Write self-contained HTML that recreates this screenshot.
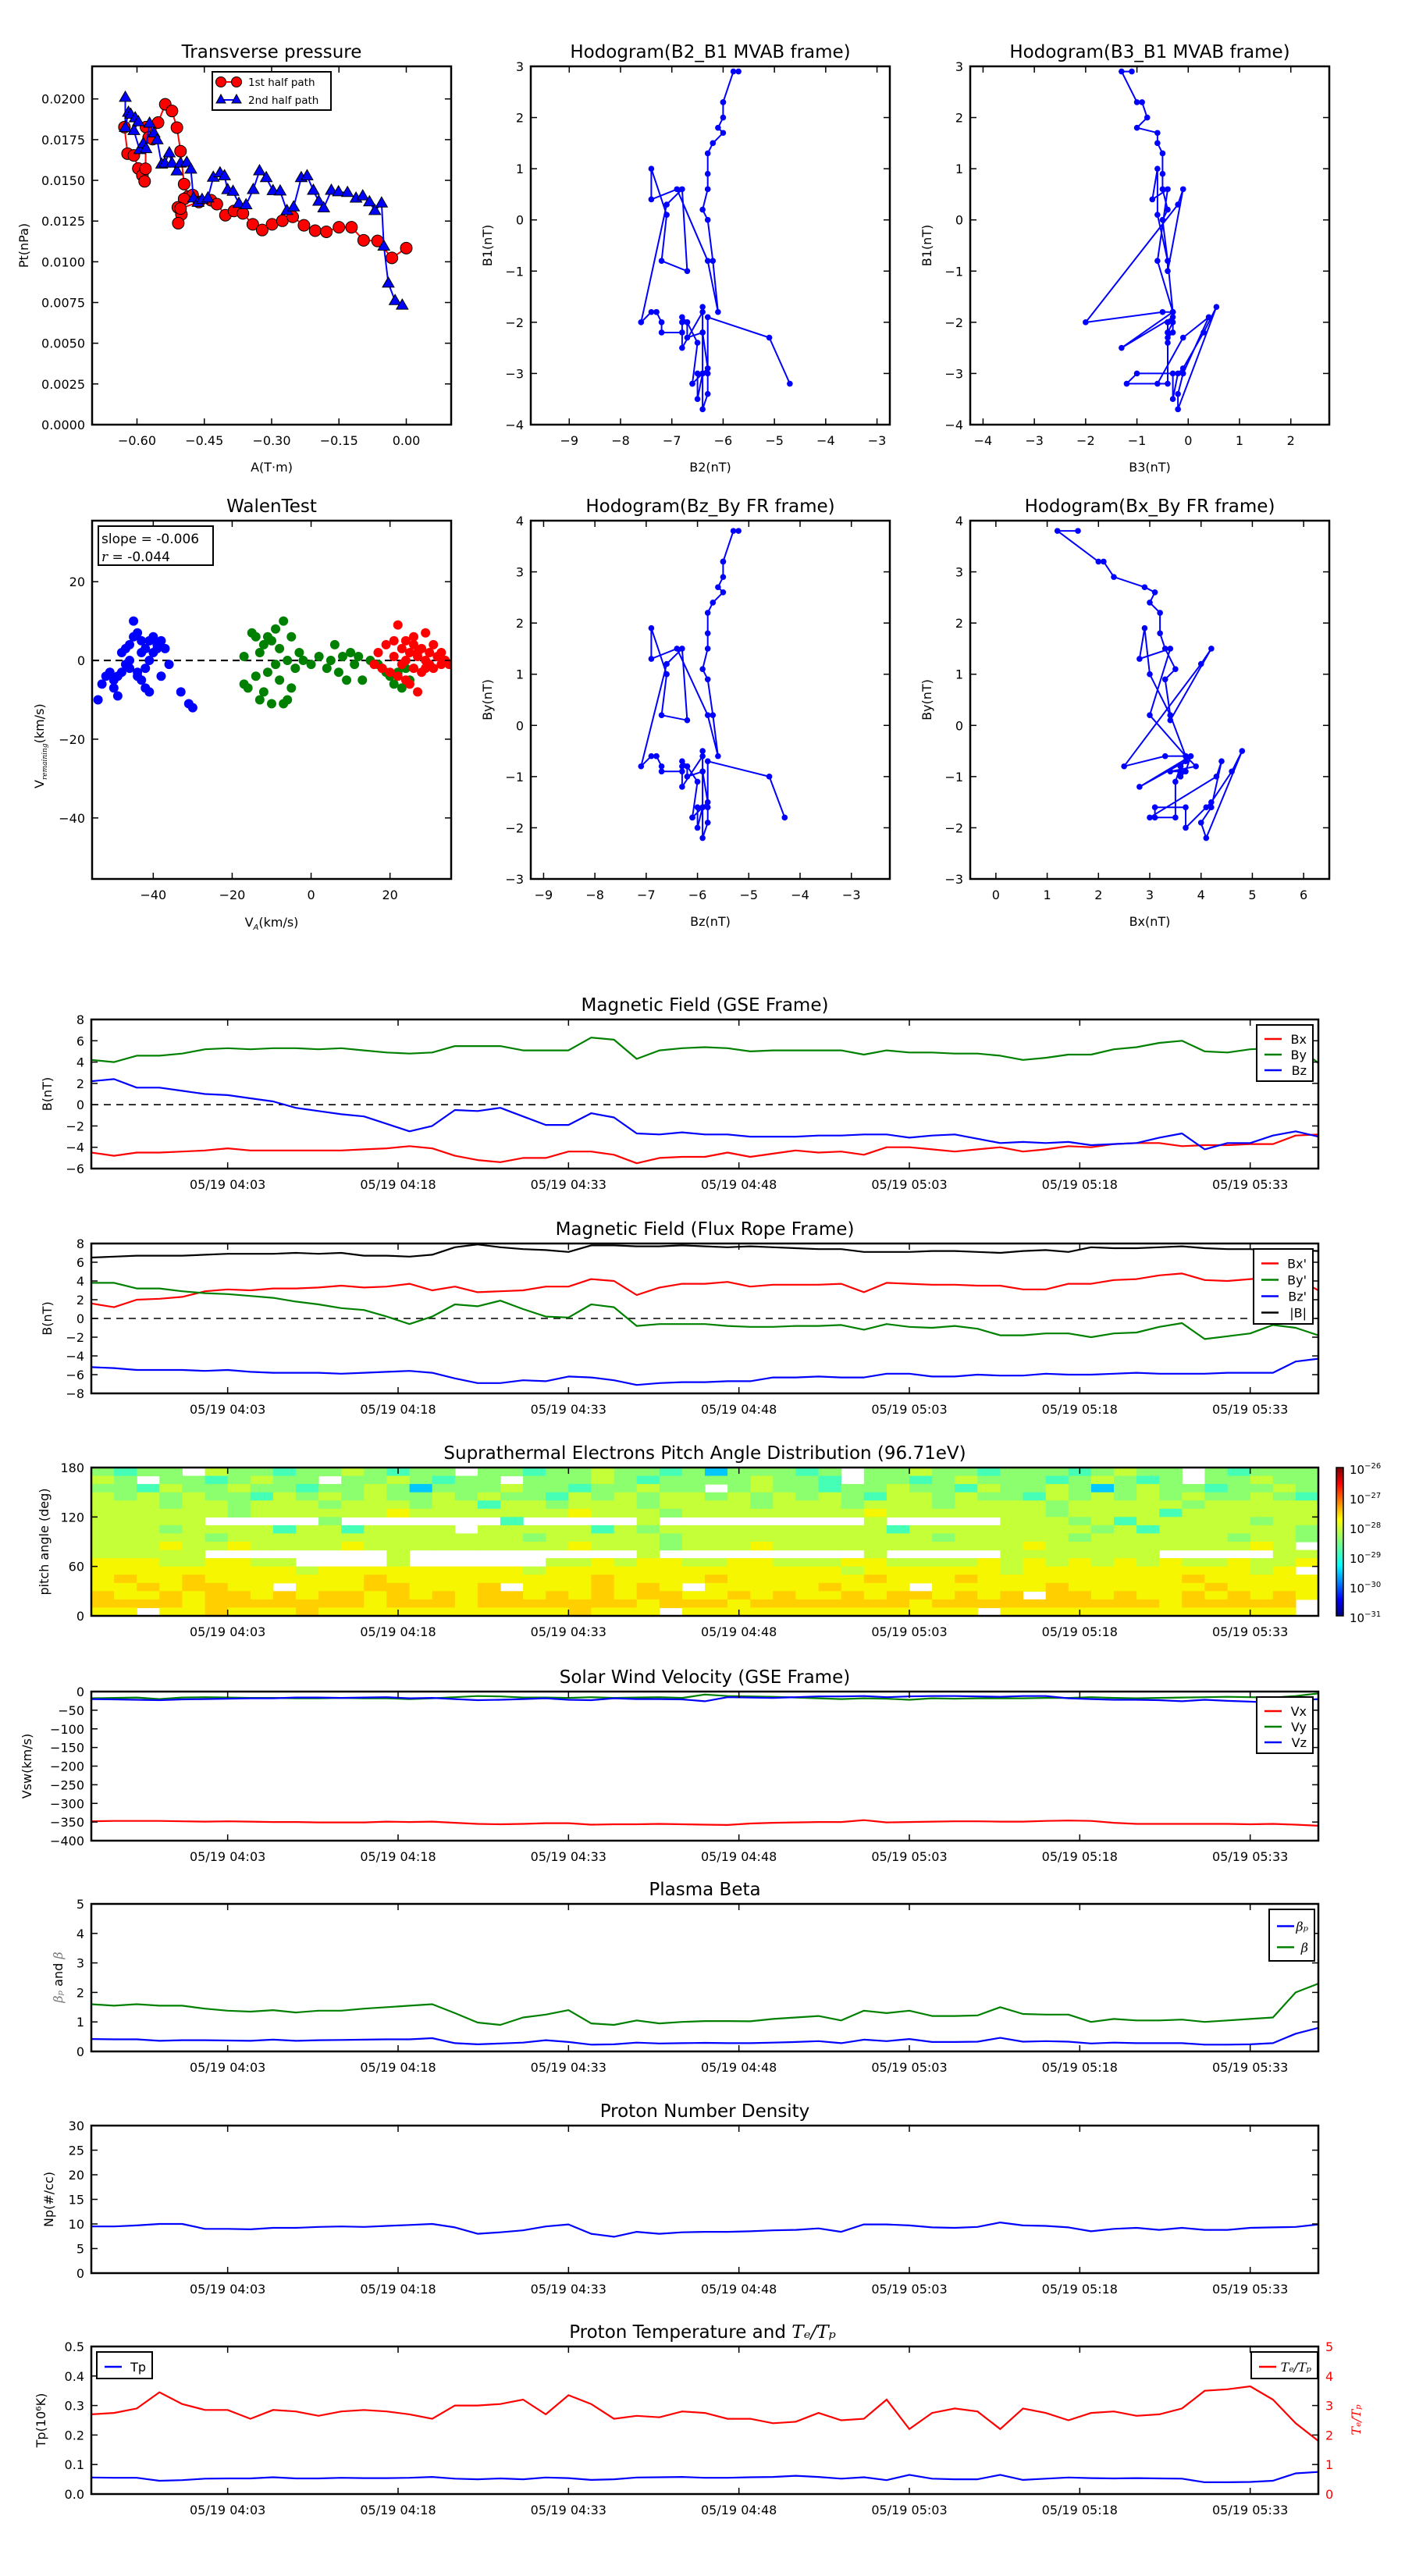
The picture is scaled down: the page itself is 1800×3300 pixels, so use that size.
<!DOCTYPE html>
<html><head><meta charset="utf-8"><title>Flux rope analysis</title>
<style>
html,body{margin:0;padding:0;background:#fff;}
svg{display:block;font-family:"DejaVu Sans","Liberation Sans",sans-serif;}
</style></head>
<body>
<svg id="chart" xmlns="http://www.w3.org/2000/svg" width="1800" height="3300" viewBox="0 0 1800 3300">
<rect x="0" y="0" width="1800" height="3300" fill="#fff"/>
</svg>
<script>
// ---------- data: transverse pressure ----------
const tp1A=[-0.628,-0.621,-0.607,-0.597,-0.588,-0.583,-0.581,-0.580,-0.574,-0.565,-0.553,-0.537,-0.522,-0.511,-0.503,-0.495,-0.486,-0.476,-0.495,-0.501,-0.508,-0.509,-0.503,-0.462,-0.435,-0.422,-0.403,-0.384,-0.364,-0.342,-0.321,-0.299,-0.276,-0.253,-0.228,-0.203,-0.178,-0.150,-0.122,-0.095,-0.064,-0.032,0.000];
const tp1P=[0.01827,0.01664,0.01653,0.01573,0.01531,0.01494,0.01571,0.01827,0.01763,0.01753,0.01855,0.01967,0.01926,0.01824,0.01679,0.01477,0.01401,0.01410,0.01386,0.01291,0.01237,0.01334,0.01327,0.01367,0.01378,0.01354,0.01286,0.01312,0.01297,0.01230,0.01195,0.01230,0.01252,0.01276,0.01224,0.01191,0.01184,0.01212,0.01212,0.01132,0.01128,0.01024,0.01084];
const tp2A=[-0.626,-0.626,-0.619,-0.614,-0.604,-0.597,-0.607,-0.594,-0.586,-0.580,-0.572,-0.562,-0.555,-0.545,-0.538,-0.528,-0.522,-0.511,-0.503,-0.489,-0.480,-0.474,-0.464,-0.455,-0.442,-0.430,-0.415,-0.405,-0.398,-0.386,-0.373,-0.357,-0.341,-0.327,-0.312,-0.297,-0.281,-0.266,-0.251,-0.234,-0.221,-0.207,-0.195,-0.184,-0.167,-0.151,-0.131,-0.112,-0.097,-0.082,-0.070,-0.055,-0.050,-0.040,-0.025,-0.009];
const tp2P=[0.02009,0.01824,0.01917,0.01905,0.01883,0.01859,0.01805,0.01688,0.01725,0.01694,0.01850,0.01790,0.01748,0.01599,0.01605,0.01668,0.01605,0.01557,0.01605,0.01610,0.01568,0.01391,0.01364,0.01382,0.01391,0.01518,0.01545,0.01527,0.01442,0.01432,0.01358,0.01349,0.01443,0.01558,0.01516,0.01436,0.01434,0.01314,0.01336,0.01516,0.01527,0.01438,0.01371,0.01330,0.01438,0.01429,0.01425,0.01390,0.01404,0.01367,0.01314,0.01360,0.01095,0.00868,0.00761,0.00733];
// ---------- data: time series (2-min samples from 03:51) ----------
const Bx=[-4.5,-4.8,-4.5,-4.5,-4.4,-4.3,-4.1,-4.3,-4.3,-4.3,-4.3,-4.3,-4.2,-4.1,-3.9,-4.1,-4.8,-5.2,-5.4,-5.0,-5.0,-4.4,-4.4,-4.7,-5.5,-5.0,-4.9,-4.9,-4.5,-4.9,-4.6,-4.3,-4.5,-4.4,-4.7,-4.0,-4.0,-4.2,-4.4,-4.2,-4.0,-4.4,-4.2,-3.9,-4.0,-3.7,-3.6,-3.6,-3.9,-3.8,-3.8,-3.7,-3.7,-2.9,-2.8];
const By=[4.2,4.0,4.6,4.6,4.8,5.2,5.3,5.2,5.3,5.3,5.2,5.3,5.1,4.9,4.8,4.9,5.5,5.5,5.5,5.1,5.1,5.1,6.3,6.1,4.3,5.1,5.3,5.4,5.3,5.0,5.1,5.1,5.1,5.1,4.7,5.1,4.9,4.9,4.8,4.8,4.6,4.2,4.4,4.7,4.7,5.2,5.4,5.8,6.0,5.0,4.9,5.2,5.3,5.6,3.9];
const Bz=[2.2,2.4,1.6,1.6,1.3,1.0,0.9,0.6,0.3,-0.3,-0.6,-0.9,-1.1,-1.8,-2.5,-2.0,-0.5,-0.6,-0.3,-1.1,-1.9,-1.9,-0.8,-1.2,-2.7,-2.8,-2.6,-2.8,-2.8,-3.0,-3.0,-3.0,-2.9,-2.9,-2.8,-2.8,-3.1,-2.9,-2.8,-3.2,-3.6,-3.5,-3.6,-3.5,-3.8,-3.7,-3.6,-3.1,-2.7,-4.2,-3.6,-3.6,-2.9,-2.5,-3.0];
const Bxp=[1.6,1.2,2.0,2.1,2.3,2.9,3.1,3.0,3.2,3.2,3.3,3.5,3.3,3.4,3.7,3.0,3.4,2.8,2.9,3.0,3.4,3.4,4.2,4.0,2.5,3.3,3.7,3.7,3.9,3.4,3.6,3.6,3.6,3.7,2.8,3.8,3.7,3.6,3.6,3.5,3.5,3.1,3.1,3.7,3.7,4.1,4.2,4.6,4.8,4.1,4.0,4.2,4.4,4.3,3.0];
const Byp=[3.8,3.8,3.2,3.2,2.9,2.7,2.6,2.4,2.2,1.8,1.5,1.1,0.9,0.2,-0.6,0.2,1.5,1.3,1.9,1.0,0.2,0.1,1.5,1.2,-0.8,-0.6,-0.6,-0.6,-0.8,-0.9,-0.9,-0.8,-0.8,-0.7,-1.2,-0.6,-0.9,-1.0,-0.8,-1.1,-1.8,-1.8,-1.6,-1.6,-2.0,-1.6,-1.5,-0.9,-0.5,-2.2,-1.9,-1.6,-0.7,-1.0,-1.8];
const Bzp=[-5.2,-5.3,-5.5,-5.5,-5.5,-5.6,-5.5,-5.7,-5.8,-5.8,-5.8,-5.9,-5.8,-5.7,-5.6,-5.8,-6.4,-6.9,-6.9,-6.6,-6.7,-6.2,-6.3,-6.6,-7.1,-6.9,-6.8,-6.8,-6.7,-6.7,-6.3,-6.3,-6.2,-6.3,-6.3,-5.9,-5.9,-6.2,-6.2,-6.0,-6.1,-6.1,-5.9,-6.0,-6.0,-5.9,-5.8,-5.9,-5.9,-5.9,-5.8,-5.8,-5.8,-4.6,-4.3];
const Bmag=[6.5,6.6,6.7,6.7,6.7,6.8,6.9,6.9,6.9,7.0,6.9,7.0,6.7,6.7,6.6,6.8,7.6,7.9,7.6,7.4,7.3,7.1,7.8,7.8,7.7,7.7,7.8,7.7,7.6,7.7,7.6,7.5,7.4,7.4,7.1,7.1,7.1,7.2,7.2,7.1,7.0,7.2,7.3,7.1,7.6,7.5,7.5,7.6,7.7,7.5,7.4,7.4,7.2,7.3,7.2];
// MVAB frame
const B1=[2.9,2.9,2.3,2.3,2.0,1.8,1.7,1.5,1.3,0.9,0.6,0.2,0.0,-0.8,-1.8,-0.8,0.6,0.4,1.0,0.1,-0.8,-1.0,0.6,0.3,-2.0,-1.8,-1.8,-1.8,-2.0,-2.2,-2.2,-2.0,-2.0,-1.9,-2.5,-1.8,-2.2,-2.3,-2.0,-2.4,-3.2,-3.2,-3.0,-3.0,-3.5,-3.0,-2.9,-2.2,-1.7,-3.7,-3.4,-3.0,-1.9,-2.3,-3.2];
const B2=[-5.7,-5.8,-6.0,-6.0,-6.0,-6.1,-6.0,-6.2,-6.3,-6.3,-6.3,-6.4,-6.3,-6.2,-6.1,-6.3,-6.9,-7.4,-7.4,-7.1,-7.2,-6.7,-6.8,-7.1,-7.6,-7.4,-7.3,-7.3,-7.2,-7.2,-6.8,-6.8,-6.7,-6.8,-6.8,-6.4,-6.4,-6.7,-6.7,-6.5,-6.6,-6.6,-6.4,-6.5,-6.5,-6.4,-6.3,-6.4,-6.4,-6.4,-6.3,-6.3,-6.3,-5.1,-4.7];
const B3=[-1.1,-1.3,-1.0,-0.9,-0.8,-1.0,-0.6,-0.6,-0.5,-0.5,-0.5,-0.4,-0.5,-0.4,-0.3,-0.6,-0.4,-0.7,-0.6,-0.6,-0.4,-0.4,-0.1,-0.2,-2.0,-0.5,-0.3,-0.3,-0.3,-0.4,-0.4,-0.4,-0.4,-0.3,-1.3,-0.3,-0.3,-0.4,-0.4,-0.4,-0.4,-1.2,-1.0,-0.3,-0.3,-0.2,-0.1,0.3,0.55,-0.2,-0.2,-0.1,0.4,-0.1,-0.6];
// Walen test
const walenBlueX=[-54,-53,-52,-51,-50,-50,-49,-49,-48,-48,-47,-47,-46,-46,-45,-45,-44,-44,-43,-43,-43,-42,-42,-42,-41,-41,-40,-40,-39,-39,-38,-38,-37,-36,-33,-31,-30,-41,-44,-46];
const walenBlueY=[-10,-6,-4,-3,-5,-7,-9,-4,-3,2,3,-1,4,0,6,10,7,-3,5,2,-5,3,-2,-7,5,0,2,6,4,3,5,-4,3,-1,-8,-11,-12,-8,-4,-2];
const walenGreenX=[-17,-17,-16,-15,-14,-14,-13,-13,-12,-12,-11,-11,-10,-10,-9,-9,-8,-8,-7,-7,-6,-6,-5,-5,-4,-3,-2,0,2,4,5,6,7,8,9,10,11,12,13,15,17,18,19,20,21,22,23,24,25];
const walenGreenY=[1,-6,-7,7,6,-4,-10,2,-8,4,-3,6,5,-11,-1,8,3,-5,10,-11,0,-10,6,-7,-2,2,0,-1,1,-2,0,4,-3,1,-5,2,-1,1,-5,0,-1,-2,-3,-4,-6,-3,-7,-2,-5];
const walenRedX=[16,17,18,19,20,21,21,22,22,23,23,24,24,25,25,26,26,27,27,28,28,29,29,30,30,31,32,33,34,35,24,26,27,29,31,33];
const walenRedY=[-1,2,-2,4,-3,5,1,9,-4,3,-1,5,0,2,-6,4,-2,1,-8,3,-3,7,0,2,-1,4,1,2,0,-1,-5,6,2,-2,-2,-1];
// Pitch angle distribution: rows 170-180 deg down to 0-10 deg, 2-min columns
const padRows=[
"gcggwlggcgglgcggwggcgglggcgbgggcgwgglggcgggcglggwgcggg",
"lgwggcglggwgglgcggwggglgcgggglggcwggcglgggcglgcgwgglgg",
"ggclgglggcgglgbggglggcgglggwglggcgglggclgglgbglggcgglg",
"lglglggclglglgglglggclglgllglglglgcllglggclglglglgglgc",
"lllgllglllglllgllcllglllgllllglllglllgllllglllllglllllgl",
"llllllgllllllylllllllylllgllllllllylllllllgllllcllllllglll",
"lllllwwwwwgwwwwwwwcwwwwwlwwwwwwwwwlwwwwwlllglclllllgll",
"lllgllllcllcllllwlllllclgllllllllllcllllllllglcllllllg",
"lllllglllllllllllllglllllglllllllllllglllllgllllllgllg",
"lllyllyllllylllllllllylllglllylllllllllllylllllllllyl",
"lllllwwwwwwwwlwwwwwwwwwwlwwwwwwwwwlwwwwwlllllllwwwwwll",
"yyyllyyllwwwwlwwwwwwllylyyllyylllyyllllylylylylyllylly",
"yyyyyyyyylyyyyyyyyylyyyyyyyyyyyyylyyyyyylyyyyyyyyyyly",
"yoyyoyyyyyyyoyyyyyyyyyoyyyyoyyyyyyoyyyoyyyyyyyyyoyyyyy",
"yyoyooyywyyyooyyyowyyyoyoywyyyyyoyyywyyyyyoyyyyyyoyyyy",
"oyyoyooyoyooyoyoyooyoyoyooyyoyoyyoyooyoyowooyoyyoyoyoy",
"ooooyoooooooyoooyoooooooyoooyoooooooyooooooooooyooooo",
"yywyyoyyyoyyyyyyyyyyyoyyywyyyyyyyyyyyyywyyyyyyyyyyyyy"];
// Solar wind velocity
const Vx=[-348,-347,-347,-347,-348,-349,-348,-349,-350,-350,-351,-351,-351,-349,-350,-349,-352,-355,-356,-355,-353,-353,-357,-356,-356,-355,-356,-357,-358,-354,-352,-351,-350,-350,-345,-351,-350,-349,-348,-348,-349,-349,-347,-346,-347,-352,-355,-355,-355,-355,-355,-356,-355,-357,-360];
const Vy=[-18,-17,-16,-20,-16,-15,-16,-17,-17,-18,-18,-17,-18,-18,-20,-18,-15,-12,-13,-16,-16,-17,-15,-17,-16,-15,-17,-8,-12,-13,-14,-16,-18,-20,-18,-19,-22,-18,-19,-18,-18,-18,-17,-17,-15,-17,-18,-17,-16,-15,-14,-15,-16,-12,-5];
const Vz=[-20,-21,-22,-23,-21,-20,-19,-18,-18,-16,-16,-17,-16,-15,-18,-17,-20,-23,-22,-20,-18,-22,-23,-18,-20,-20,-21,-26,-15,-16,-17,-15,-13,-13,-12,-15,-13,-12,-12,-13,-14,-12,-12,-18,-20,-22,-22,-23,-26,-22,-25,-27,-30,-24,-20];
// Plasma beta
const betaP=[0.42,0.41,0.41,0.36,0.38,0.38,0.37,0.36,0.4,0.36,0.38,0.39,0.4,0.41,0.41,0.45,0.28,0.24,0.27,0.3,0.38,0.32,0.23,0.24,0.3,0.27,0.28,0.29,0.28,0.28,0.3,0.32,0.35,0.28,0.4,0.35,0.42,0.32,0.32,0.33,0.46,0.33,0.35,0.33,0.27,0.3,0.28,0.28,0.28,0.23,0.23,0.24,0.28,0.6,0.8];
const betaT=[1.6,1.55,1.6,1.55,1.55,1.45,1.38,1.35,1.4,1.32,1.38,1.38,1.45,1.5,1.55,1.6,1.3,0.98,0.9,1.15,1.25,1.4,0.95,0.9,1.05,0.95,1.0,1.03,1.03,1.02,1.1,1.15,1.2,1.05,1.38,1.3,1.38,1.2,1.2,1.22,1.5,1.27,1.25,1.25,1.0,1.1,1.05,1.05,1.08,1.0,1.05,1.1,1.15,2.0,2.3];
// Proton density
const Np=[9.5,9.5,9.7,10.0,10.0,9.0,9.0,8.9,9.2,9.2,9.4,9.5,9.4,9.6,9.8,10.0,9.3,8.0,8.3,8.7,9.5,9.9,8.0,7.4,8.4,8.0,8.3,8.4,8.4,8.5,8.7,8.8,9.1,8.4,9.9,9.9,9.7,9.3,9.2,9.4,10.3,9.7,9.6,9.3,8.5,9.0,9.2,8.8,9.2,8.8,8.8,9.2,9.3,9.4,9.9];
// Temperature
const Tp=[0.056,0.055,0.055,0.045,0.047,0.052,0.053,0.053,0.057,0.053,0.053,0.055,0.054,0.054,0.055,0.058,0.052,0.05,0.053,0.05,0.056,0.054,0.048,0.05,0.056,0.057,0.058,0.055,0.055,0.057,0.058,0.062,0.058,0.052,0.057,0.047,0.065,0.052,0.05,0.05,0.065,0.048,0.052,0.056,0.054,0.053,0.054,0.053,0.052,0.04,0.04,0.041,0.045,0.07,0.075];
const TeTp=[2.7,2.75,2.9,3.45,3.05,2.85,2.85,2.55,2.85,2.8,2.65,2.8,2.85,2.8,2.7,2.55,3.0,3.0,3.05,3.2,2.7,3.35,3.05,2.55,2.65,2.6,2.8,2.75,2.55,2.55,2.4,2.45,2.75,2.5,2.55,3.2,2.2,2.75,2.9,2.8,2.2,2.9,2.75,2.5,2.75,2.8,2.65,2.7,2.9,3.5,3.55,3.65,3.2,2.4,1.8];
const timeTickMin=[12,27,42,57,72,87,102];
const timeTickLabels=["05/19 04:03","05/19 04:18","05/19 04:33","05/19 04:48","05/19 05:03","05/19 05:18","05/19 05:33"];
const sampleStepMin=2;

// ---------- helpers ----------
const NS='http://www.w3.org/2000/svg';
const svg=document.getElementById('chart');
function mk(tag,attrs,parent){const e=document.createElementNS(NS,tag);for(const k in attrs)e.setAttribute(k,attrs[k]);(parent||svg).appendChild(e);return e;}
function txt(x,y,s,attrs,parent){const e=mk('text',Object.assign({x:x,y:y,'font-size':16,fill:'#000'},attrs),parent);e.textContent=s;return e;}
function fmtMinus(s){return String(s).replace('-','\u2212');}
let clipId=0;
function axes(o){
  const a=Object.assign({},o);
  a.sx=v=>a.x0+(v-a.xlim[0])/(a.xlim[1]-a.xlim[0])*(a.x1-a.x0);
  a.sy=v=>a.y1-(v-a.ylim[0])/(a.ylim[1]-a.ylim[0])*(a.y1-a.y0);
  const cp=mk('clipPath',{id:'cp'+(++clipId)});
  mk('rect',{x:a.x0,y:a.y0,width:a.x1-a.x0,height:a.y1-a.y0},cp);
  a.g=mk('g',{'clip-path':'url(#cp'+clipId+')'});
  
  
  return a;
}
function finishAxes(a){
  const g=mk('g',{});
  
  
  const tl=8;
  (a.xticks||[]).forEach((v,i)=>{
    const x=a.sx(v);
    mk('line',{x1:x,x2:x,y1:a.y1,y2:a.y1-tl,stroke:'#000','stroke-width':1.5},g);
    mk('line',{x1:x,x2:x,y1:a.y0,y2:a.y0+tl,stroke:'#000','stroke-width':1.5},g);
    const t=txt(x,a.y1+26,a.xlabels[i],{'text-anchor':'middle'},g);
    
    
  });
  (a.yticks||[]).forEach((v,i)=>{
    const y=a.sy(v);
    mk('line',{x1:a.x0,x2:a.x0+tl,y1:y,y2:y,stroke:'#000','stroke-width':1.5},g);
    if(!a.noRightTicks) mk('line',{x1:a.x1,x2:a.x1-tl,y1:y,y2:y,stroke:'#000','stroke-width':1.5},g);
    const t=txt(a.x0-9,y+6,a.ylabels[i],{'text-anchor':'end'},g);
    
    
  });
  const r=mk('rect',{x:a.x0,y:a.y0,width:a.x1-a.x0,height:a.y1-a.y0,fill:'none',stroke:'#000','stroke-width':2.5},g);
  
  
  if(a.title){const t=txt((a.x0+a.x1)/2,a.y0-11,a.title,{'text-anchor':'middle','font-size':23},g);
    
    }
  if(a.xtitle){const t=txt((a.x0+a.x1)/2,a.y1+60,a.xtitle,{'text-anchor':'middle'},g);
    
    }
  if(a.ytitle){const yc=(a.y0+a.y1)/2;const t=txt(a.ytx,yc,a.ytitle,{'text-anchor':'middle',transform:'rotate(-90 '+a.ytx+' '+yc+')'},g);
    
    }
  return g;
}
function line(a,xs,ys,color,w,name){
  const pts=xs.map((x,i)=>a.sx(x).toFixed(1)+','+a.sy(ys[i]).toFixed(1)).join(' ');
  const p=mk('polyline',{points:pts,fill:'none',stroke:color,'stroke-width':w||2.2,'stroke-linejoin':'round'},a.g);
  
  
  return p;
}
function ticksRange(a,b,s){const r=[];for(let v=a;v<=b+1e-9;v+=s)r.push(Math.round(v*1e6)/1e6);return r;}

// ---------- Transverse pressure ----------
(function(){
  const a=axes({name:'transverse-pressure',x0:118,x1:578,y0:85,y1:544,xlim:[-0.7,0.1],ylim:[0,0.022]});
  a.xticks=[-0.6,-0.45,-0.3,-0.15,0];a.xlabels=['\u22120.60','\u22120.45','\u22120.30','\u22120.15','0.00'];
  a.yticks=ticksRange(0,0.02,0.0025);a.ylabels=a.yticks.map(v=>v.toFixed(4));
  a.title='Transverse pressure';a.xtitle='A(T\u00b7m)';a.ytitle='Pt(nPa)';a.ytx=36;
  line(a,tp1A,tp1P,'#ff0000',2,'first-half-path-line');
  tp1A.forEach((v,i)=>{const c=mk('circle',{cx:a.sx(v),cy:a.sy(tp1P[i]),r:7.5,fill:'#ff0000',stroke:'#000','stroke-width':1},a.g);
    
    });
  line(a,tp2A,tp2P,'#0000ff',2,'second-half-path-line');
  tp2A.forEach((v,i)=>{const x=a.sx(v),y=a.sy(tp2P[i]);const t=mk('polygon',{points:`${x},${y-8} ${x-7.5},${y+5} ${x+7.5},${y+5}`,fill:'#0000ff',stroke:'#000','stroke-width':1},a.g);
    
    });
  finishAxes(a);
  const lg=mk('g',{});
  
  
  mk('rect',{x:272,y:92,width:152,height:49,fill:'#fff',stroke:'#000','stroke-width':2},lg);
  mk('line',{x1:283,x2:303,y1:105,y2:105,stroke:'#ff0000','stroke-width':2},lg);
  mk('circle',{cx:283,cy:105,r:6.5,fill:'#ff0000',stroke:'#000'},lg);mk('circle',{cx:303,cy:105,r:6.5,fill:'#ff0000',stroke:'#000'},lg);
  mk('line',{x1:283,x2:303,y1:128,y2:128,stroke:'#0000ff','stroke-width':2},lg);
  mk('polygon',{points:'283,121 277,132 289,132',fill:'#0000ff',stroke:'#000'},lg);mk('polygon',{points:'303,121 297,132 309,132',fill:'#0000ff',stroke:'#000'},lg);
  txt(318,110,'1st half path',{'font-size':13.5},lg);
  txt(318,133,'2nd half path',{'font-size':13.5},lg);
})();

// ---------- Hodograms ----------
function hodo(name,x0,y0,xlim,ylim,xs,ys,title,xt,yt,ytx){
  const a=axes({name:name,x0:x0,x1:x0+460,y0:y0,y1:y0+459,xlim:xlim,ylim:ylim});
  a.xticks=ticksRange(Math.ceil(xlim[0]),Math.floor(xlim[1]),1);a.xlabels=a.xticks.map(v=>fmtMinus(v));
  a.yticks=ticksRange(ylim[0],ylim[1],1);a.ylabels=a.yticks.map(v=>fmtMinus(v));
  a.title=title;a.xtitle=xt;a.ytitle=yt;a.ytx=ytx;
  line(a,xs,ys,'#0000ff',2,name+'-path');
  xs.forEach((v,i)=>{const c=mk('circle',{cx:a.sx(v),cy:a.sy(ys[i]),r:3.8,fill:'#0000ff'},a.g);
    
    });
  finishAxes(a);
}
hodo('hodogram-b2-b1',680,85,[-9.75,-2.75],[-4,3],B2,B1,'Hodogram(B2_B1 MVAB frame)','B2(nT)','B1(nT)',630);
hodo('hodogram-b3-b1',1243,85,[-4.25,2.75],[-4,3],B3,B1,'Hodogram(B3_B1 MVAB frame)','B3(nT)','B1(nT)',1193);
hodo('hodogram-bz-by',680,667,[-9.25,-2.25],[-3,4],Bzp,Byp,'Hodogram(Bz_By FR frame)','Bz(nT)','By(nT)',630);
hodo('hodogram-bx-by',1243,667,[-0.5,6.5],[-3,4],Bxp,Byp,'Hodogram(Bx_By FR frame)','Bx(nT)','By(nT)',1193);

// ---------- Walen test ----------
(function(){
  const a=axes({name:'walen-test',x0:118,x1:578,y0:667,y1:1126,xlim:[-55.5,35.5],ylim:[-55.5,35.5]});
  a.xticks=[-40,-20,0,20];a.xlabels=a.xticks.map(v=>fmtMinus(v));
  a.yticks=[-40,-20,0,20];a.ylabels=a.yticks.map(v=>fmtMinus(v));
  a.title='WalenTest';
  const d=mk('line',{x1:a.x0,x2:a.x1,y1:a.sy(0),y2:a.sy(0),stroke:'#000','stroke-width':2.2,'stroke-dasharray':'9,6'},a.g);
  
  
  [[walenBlueX,walenBlueY,'#0000ff','walen-point-blue'],[walenGreenX,walenGreenY,'#008000','walen-point-green'],[walenRedX,walenRedY,'#ff0000','walen-point-red']].forEach(s=>{
    s[0].forEach((v,i)=>{const c=mk('circle',{cx:a.sx(v),cy:a.sy(s[1][i]),r:6,fill:s[2]},a.g);
      
      });
  });
  finishAxes(a);
  const xt=txt(348,1187,'V',{'text-anchor':'middle'});
  
  
  const ts=document.createElementNS(NS,'tspan');ts.setAttribute('font-size','10');ts.setAttribute('font-style','italic');ts.setAttribute('dy','4');ts.textContent='A';xt.appendChild(ts);
  const ts2=document.createElementNS(NS,'tspan');ts2.setAttribute('dy','-4');ts2.textContent='(km/s)';xt.appendChild(ts2);
  const yt=txt(0,0,'V',{transform:'translate(56 1010) rotate(-90)'});
  
  
  const s1=document.createElementNS(NS,'tspan');s1.setAttribute('font-size','9');s1.setAttribute('font-style','italic');s1.setAttribute('font-family','DejaVu Serif, serif');s1.setAttribute('dy','4');s1.textContent='remaining';yt.appendChild(s1);
  const s2=document.createElementNS(NS,'tspan');s2.setAttribute('dy','-4');s2.textContent='(km/s)';yt.appendChild(s2);
  const box=mk('g',{});
  
  
  mk('rect',{x:126,y:674,width:147,height:50,fill:'#fff',stroke:'#000','stroke-width':2},box);
  txt(130,696,'slope = -0.006',{'font-size':17},box);
  const r=txt(130,719,'',{'font-size':17},box);
  const ri=document.createElementNS(NS,'tspan');ri.setAttribute('font-style','italic');ri.setAttribute('font-family','DejaVu Serif, serif');ri.textContent='r';r.appendChild(ri);
  const rr=document.createElementNS(NS,'tspan');rr.textContent=' = -0.044';r.appendChild(rr);
})();

// ---------- time series panels ----------
const TL=117,TR=1689,TMIN=0,TMAX=108;
const tsTimes=Bx.map((_,i)=>i*sampleStepMin);
function tsAxes(name,y0,y1,ylim,yticks,title,ytitle,ytx){
  const a=axes({name:name,x0:TL,x1:TR,y0:y0,y1:y1,xlim:[TMIN,TMAX],ylim:ylim});
  a.xticks=timeTickMin;a.xlabels=timeTickLabels;
  a.yticks=yticks;a.ylabels=yticks.map(v=>fmtMinus(v));
  a.title=title;a.ytitle=ytitle;a.ytx=ytx;
  return a;
}
function legendBox(name,x,y,w,entries,gap){
  const g=mk('g',{});
  
  
  const h=entries.length*gap+12;
  mk('rect',{x:x,y:y,width:w,height:h,fill:'#fff',stroke:'#000','stroke-width':2},g);
  entries.forEach((e,i)=>{const yy=y+gap*0.5+8+i*gap;
    mk('line',{x1:x+10,x2:x+32,y1:yy,y2:yy,stroke:e[1],'stroke-width':2.5},g);
    const t=txt(x+w-8,yy+6,e[0],{'text-anchor':'end'},g);
    if(e[2])t.setAttribute('font-style','italic'),t.setAttribute('font-family','DejaVu Serif, serif');
  });
  return g;
}
function dashedZero(a){const d=mk('line',{x1:a.x0,x2:a.x1,y1:a.sy(0),y2:a.sy(0),stroke:'#000','stroke-width':1.6,'stroke-dasharray':'9,7'},a.g);
  
  }

// GSE
(function(){
  const a=tsAxes('magnetic-field-gse',1306,1497,[-6,8],ticksRange(-6,8,2),'Magnetic Field (GSE Frame)','B(nT)',66);
  dashedZero(a);
  line(a,tsTimes,Bx,'#ff0000',2.2,'bx-line');
  line(a,tsTimes,By,'#008000',2.2,'by-line');
  line(a,tsTimes,Bz,'#0000ff',2.2,'bz-line');
  finishAxes(a);
  legendBox('gse-legend',1610,1313,72,[['Bx','#ff0000'],['By','#008000'],['Bz','#0000ff']],20);
})();
// Flux rope frame
(function(){
  const a=tsAxes('magnetic-field-flux-rope',1593,1785,[-8,8],ticksRange(-8,8,2),'Magnetic Field (Flux Rope Frame)','B(nT)',66);
  dashedZero(a);
  line(a,tsTimes,Bxp,'#ff0000',2.2,'bx-prime-line');
  line(a,tsTimes,Byp,'#008000',2.2,'by-prime-line');
  line(a,tsTimes,Bzp,'#0000ff',2.2,'bz-prime-line');
  line(a,tsTimes,Bmag,'#000000',2.2,'b-magnitude-line');
  finishAxes(a);
  legendBox('flux-rope-legend',1606,1600,76,[["Bx'",'#ff0000'],["By'",'#008000'],["Bz'",'#0000ff'],['|B|','#000']],21);
})();
// PAD
(function(){
  const a=tsAxes('pitch-angle-distribution',1880,2070,[0,180],[0,60,120,180],'Suprathermal Electrons Pitch Angle Distribution (96.71eV)','pitch angle (deg)',62);
  const colors={g:'#8cff6e',l:'#c4ff38',y:'#f6f600',o:'#ffcf00',c:'#45ffb6',b:'#00c8ff',w:'#ffffff'};
  padRows.forEach((row,r)=>{
    const paHi=180-r*10,paLo=paHi-10;
    for(let c=0;c<row.length && c<54;c++){
      const ch=row[c];if(ch==='w')continue;
      const x=a.sx(c*sampleStepMin),x2=a.sx((c+1)*sampleStepMin);
      const rc=mk('rect',{x:x.toFixed(1),y:a.sy(paHi).toFixed(1),width:(x2-x+0.6).toFixed(1),height:(a.sy(paLo)-a.sy(paHi)+0.6).toFixed(1),fill:colors[ch]||'#fff'},a.g);
      
      
    }
  });
  finishAxes(a);
  const cb=mk('g',{});
  
  
  const defs=mk('defs',{});
  const lg=mk('linearGradient',{id:'jet',x1:0,y1:1,x2:0,y2:0},defs);
  [['0','#00007f'],['0.11','#0000ff'],['0.34','#00ffff'],['0.5','#7fff7f'],['0.65','#ffff00'],['0.89','#ff0000'],['1','#7f0000']].forEach(s=>mk('stop',{offset:s[0],'stop-color':s[1]},lg));
  mk('rect',{x:1712,y:1880,width:9,height:190,fill:'url(#jet)',stroke:'#000','stroke-width':1.5},cb);
  [-26,-27,-28,-29,-30,-31].forEach((p,i)=>{const y=1880+i*38;
    const t=txt(1729,y+8,'10',{'font-size':15},cb);
    const s=document.createElementNS(NS,'tspan');s.setAttribute('font-size','10');s.setAttribute('dy','-7');s.textContent=String(p).replace('-','\u2212');t.appendChild(s);
  });
})();
// Solar wind
(function(){
  const a=tsAxes('solar-wind-velocity',2167,2358,[-400,0],ticksRange(-400,0,50),'Solar Wind Velocity (GSE Frame)','Vsw(km/s)',40);
  line(a,tsTimes,Vx,'#ff0000',2.2,'vx-line');
  line(a,tsTimes,Vy,'#008000',2.2,'vy-line');
  line(a,tsTimes,Vz,'#0000ff',2.2,'vz-line');
  finishAxes(a);
  legendBox('solar-wind-legend',1610,2174,72,[['Vx','#ff0000'],['Vy','#008000'],['Vz','#0000ff']],20);
})();
// Beta
(function(){
  const a=tsAxes('plasma-beta',2439,2628,[0,5],ticksRange(0,5,1),'Plasma Beta','',72);
  line(a,tsTimes,betaP,'#0000ff',2.2,'beta-p-line');
  line(a,tsTimes,betaT,'#008000',2.2,'beta-line');
  finishAxes(a);
  const yt=txt(0,0,'',{transform:'translate(80 2533) rotate(-90)','text-anchor':'middle'});
  
  
  const s1=document.createElementNS(NS,'tspan');s1.setAttribute('font-style','italic');s1.setAttribute('font-family','DejaVu Serif, serif');s1.setAttribute('fill','#777');s1.textContent='\u03b2\u209a';yt.appendChild(s1);
  const s2=document.createElementNS(NS,'tspan');s2.textContent=' and ';yt.appendChild(s2);
  const s3=document.createElementNS(NS,'tspan');s3.setAttribute('font-style','italic');s3.setAttribute('font-family','DejaVu Serif, serif');s3.setAttribute('fill','#777');s3.textContent='\u03b2';yt.appendChild(s3);
  legendBox('plasma-beta-legend',1626,2446,58,[['\u03b2\u209a','#0000ff',1],['\u03b2','#008000',1]],27);
})();
// Density
(function(){
  const a=tsAxes('proton-density',2723,2912,[0,30],ticksRange(0,30,5),'Proton Number Density','Np(#/cc)',68);
  line(a,tsTimes,Np,'#0000ff',2.2,'np-line');
  finishAxes(a);
})();
// Temperature
(function(){
  const a=tsAxes('proton-temperature',3006,3195,[0,0.5],ticksRange(0,0.5,0.1),'','Tp(10\u2076K)',58);
  a.ylabels=a.yticks.map(v=>v.toFixed(1));
  a.noRightTicks=true;
  line(a,tsTimes,Tp,'#0000ff',2.2,'tp-line');
  const sy2=v=>a.y1-v/5*(a.y1-a.y0);
  const pts=tsTimes.map((t,i)=>a.sx(t).toFixed(1)+','+sy2(TeTp[i]).toFixed(1)).join(' ');
  const p=mk('polyline',{points:pts,fill:'none',stroke:'#ff0000','stroke-width':2.2},a.g);
  
  
  finishAxes(a);
  const rg=mk('g',{});
  
  
  [0,1,2,3,4,5].forEach(v=>{const y=sy2(v);mk('line',{x1:a.x1,x2:a.x1-8,y1:y,y2:y,stroke:'#000','stroke-width':1.5},rg);
    txt(a.x1+9,y+6,String(v),{fill:'#ff0000'},rg);});
  const rt=txt(0,0,'',{transform:'translate(1743 3100) rotate(-90)','text-anchor':'middle',fill:'#ff0000','font-family':'DejaVu Serif, serif','font-style':'italic'},rg);
  rt.textContent='T\u2091/T\u209a';
  const title=txt(900,2995,'Proton Temperature and ',{'text-anchor':'middle','font-size':23});
  
  
  const ti=document.createElementNS(NS,'tspan');ti.setAttribute('font-style','italic');ti.setAttribute('font-family','DejaVu Serif, serif');ti.textContent='T\u2091/T\u209a';title.appendChild(ti);
  legendBox('tp-legend',124,3013,71,[['Tp','#0000ff']],22);
  legendBox('te-tp-legend',1603,3013,85,[['T\u2091/T\u209a','#ff0000',1]],22);
})();
</script>
</body></html>
